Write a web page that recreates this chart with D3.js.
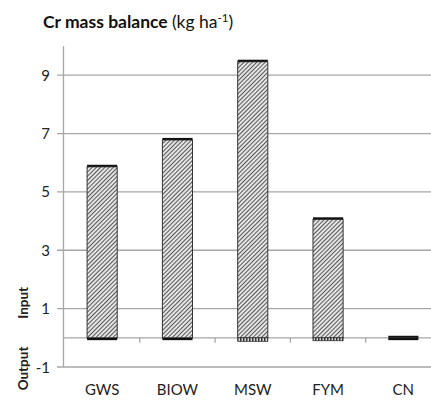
<!DOCTYPE html>
<html><head><meta charset="utf-8">
<script src="https://cdn.jsdelivr.net/npm/d3@7"></script>
<style>body{margin:0;background:#fff}svg{display:block}</style>
</head><body>
<script>
const categories = ["GWS","BIOW","MSW","FYM","CN"];
const inputMain = [5.86, 6.78, 9.46, 4.06, 0];
const inputTop = [0.07, 0.07, 0.07, 0.07, 0.07];
const outputDark = [-0.08, -0.08, 0, 0, -0.08];
const outputDotted = [0, 0, -0.12, -0.1, 0];
const yTicks = [-1, 1, 3, 5, 7, 9];

const W = 431, H = 404;
const svg = d3.select("body").append("svg").attr("width", W).attr("height", H);
const defs = svg.append("defs");
const hatch = defs.append("pattern").attr("id","hatch").attr("patternUnits","userSpaceOnUse")
  .attr("width",3).attr("height",3).attr("patternTransform","rotate(45)");
hatch.append("rect").attr("width",3).attr("height",3).attr("fill","#e4e4e4");
hatch.append("line").attr("x1",0).attr("y1",0).attr("x2",0).attr("y2",3).attr("stroke","#2a2a2a").attr("stroke-width",1.5);
const dots = defs.append("pattern").attr("id","dots").attr("patternUnits","userSpaceOnUse")
  .attr("width",3).attr("height",3);
dots.append("rect").attr("width",3).attr("height",3).attr("fill","#ddd");
dots.append("rect").attr("width",1.5).attr("height",3).attr("fill","#333");

const x = d3.scaleBand().domain(categories).range([64.5, 441]).paddingInner(0.6).paddingOuter(0.3);
const xb = d3.scaleBand().domain(categories).range([64.5, 441]);
const y = d3.scaleLinear().domain([-1, 10]).range([367, 46]);

const font = "Lato, 'Open Sans', sans-serif";
svg.append("g").selectAll("line").data(yTicks).join("line")
  .attr("x1", 57).attr("x2", 441).attr("y1", d=>y(d)).attr("y2", d=>y(d))
  .attr("stroke","#a6a6a6").attr("stroke-width",1.3);
svg.append("line").attr("x1",63.5).attr("x2",63.5).attr("y1",y(10)).attr("y2",y(-1))
  .attr("stroke","#a6a6a6").attr("stroke-width",1.3);
svg.append("g").selectAll("text").data(yTicks).join("text")
  .attr("x", 50).attr("y", d=>y(d)+5.5).attr("text-anchor","end")
  .attr("font-family",font).attr("font-size",15).attr("fill","#222")
  .text(d=> d);
svg.append("line").attr("x1",63.5).attr("x2",441).attr("y1",y(0)).attr("y2",y(0))
  .attr("stroke","#a6a6a6").attr("stroke-width",1.3);
svg.append("g").selectAll("line").data(categories.slice(1)).join("line")
  .attr("x1", d=>xb(d)).attr("x2", d=>xb(d)).attr("y1", y(0)).attr("y2", y(0)+5)
  .attr("stroke","#a6a6a6").attr("stroke-width",1.3);

const g = svg.append("g");
categories.forEach((c,i)=>{
  if (inputMain[i] > 0) g.append("rect").attr("x", x(c)).attr("width", x.bandwidth())
    .attr("y", y(inputMain[i])).attr("height", y(0)-y(inputMain[i]))
    .attr("fill","url(#hatch)").attr("stroke","#333").attr("stroke-width",1);
  g.append("rect").attr("x", x(c)).attr("width", x.bandwidth())
    .attr("y", y(inputMain[i]+inputTop[i])).attr("height", y(inputMain[i])-y(inputMain[i]+inputTop[i]))
    .attr("fill","#111");
  if (outputDark[i] < 0) g.append("rect").attr("x", x(c)).attr("width", x.bandwidth())
    .attr("y", y(0)).attr("height", y(outputDark[i])-y(0)).attr("fill","#111");
  if (outputDotted[i] < 0) g.append("rect").attr("x", x(c)).attr("width", x.bandwidth())
    .attr("y", y(0)).attr("height", y(outputDotted[i])-y(0))
    .attr("fill","url(#dots)").attr("stroke","#333").attr("stroke-width",0.8);
});

svg.append("g").selectAll("text").data(categories).join("text")
  .attr("x", d=>xb(d)+xb.bandwidth()/2).attr("y", 395).attr("text-anchor","middle")
  .attr("font-family",font).attr("font-size",15).attr("fill","#222").text(d=>d);

svg.append("text").attr("transform",`translate(28,${y(1.2)}) rotate(-90)`).attr("text-anchor","middle")
  .attr("font-family",font).attr("font-size",13.5).attr("font-weight","bold").attr("fill","#222").text("Input");
svg.append("text").attr("transform",`translate(28,${y(-1.05)}) rotate(-90)`).attr("text-anchor","middle")
  .attr("font-family",font).attr("font-size",13.5).attr("font-weight","bold").attr("fill","#222").text("Output");

const t = svg.append("text").attr("x",43).attr("y",28).attr("font-family",font).attr("font-size",17.5).attr("fill","#111");
t.append("tspan").attr("font-weight","bold").text("Cr mass balance ");
t.append("tspan").text("(kg ha");
t.append("tspan").attr("font-size",11.5).attr("dy",-6).text("-1");
t.append("tspan").attr("dy",6).text(")");
</script>
</body></html>
